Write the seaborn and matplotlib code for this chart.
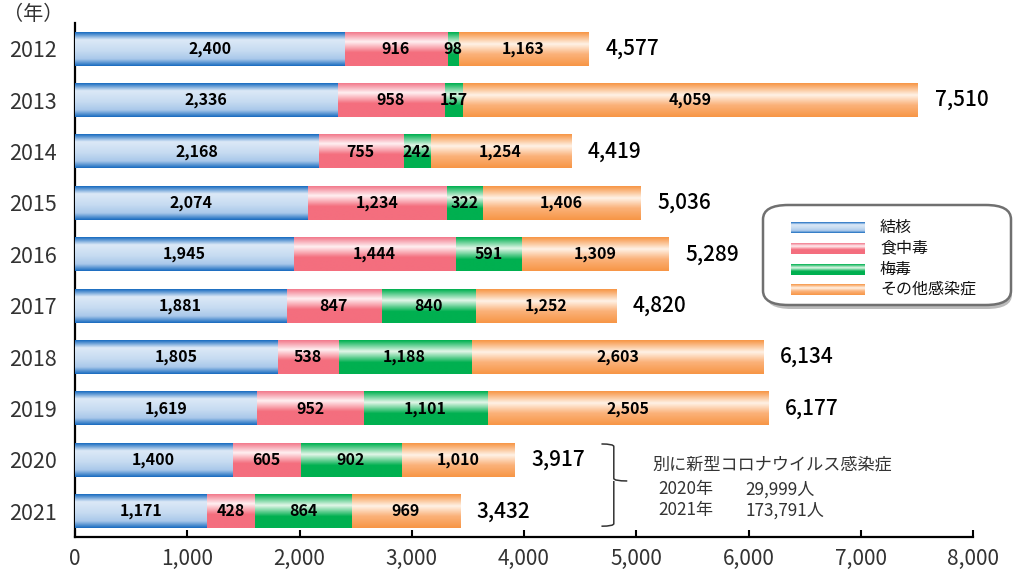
import matplotlib
matplotlib.use("Agg")
import matplotlib.pyplot as plt
import numpy as np
import pandas as pd
import seaborn as sns
from matplotlib.colors import LinearSegmentedColormap
from matplotlib.patches import FancyBboxPatch, PathPatch
from matplotlib.path import Path
from matplotlib.ticker import FuncFormatter

years = ["2012", "2013", "2014", "2015", "2016", "2017", "2018", "2019", "2020", "2021"]
tb = [2400, 2336, 2168, 2074, 1945, 1881, 1805, 1619, 1400, 1171]
food = [916, 958, 755, 1234, 1444, 847, 538, 952, 605, 428]
syph = [98, 157, 242, 322, 591, 840, 1188, 1101, 902, 864]
other = [1163, 4059, 1254, 1406, 1309, 1252, 2603, 2505, 1010, 969]
names = ["結核", "食中毒", "梅毒", "その他感染症"]

df = pd.DataFrame({"year": years, "tb": tb, "food": food, "syph": syph, "other": other})
df["c1"] = df.tb
df["c2"] = df.c1 + df.food
df["c3"] = df.c2 + df.syph
df["total"] = df.c3 + df.other

# vertical colour profiles of the bars (top -> bottom)
grads = [
    [(0, "#1a6cc0"), (0.22, "#dce9f7"), (0.55, "#c6dbf1"), (0.8, "#a9c8ea"), (1, "#1a6cc0")],
    [(0, "#f27a8c"), (0.28, "#fff0f2"), (0.6, "#f46e7e"), (1, "#f46e7e")],
    [(0, "#00b050"), (0.33, "#e3f7e9"), (0.66, "#00b050"), (1, "#00b050")],
    [(0, "#f79646"), (0.35, "#fff2e6"), (0.65, "#fbb27a"), (1, "#f79646")],
]


def grad_img(stops):
    cm = LinearSegmentedColormap.from_list("g", stops)
    return cm(np.linspace(0, 1, 64)).reshape(64, 1, 4)


sns.set_style("white")
plt.rcParams["font.family"] = ["Noto Sans CJK JP", "DejaVu Sans"]

fig = plt.figure(figsize=(10.16, 5.74), dpi=100)
ax = fig.add_axes([75 / 1016, 37 / 574, 898 / 1016, 514 / 574])

# cumulative bars, longest first, so they look stacked
layers = ["total", "c3", "c2", "c1"]
for col in layers:
    sns.barplot(data=df, x=col, y="year", orient="h", width=0.66, color="white", ax=ax)

for li, col in enumerate(layers):
    g = grad_img(grads[3 - li])
    for p in ax.patches[li * 10:(li + 1) * 10]:
        x0, y0 = p.get_x(), p.get_y()
        w, h = p.get_width(), p.get_height()
        ax.imshow(g, extent=(x0, x0 + w, y0 + h, y0), aspect="auto", origin="upper",
                  zorder=2 + li, interpolation="bilinear")
        p.set_visible(False)

ax.set_xlim(0, 8000)
ax.set_ylim(9.5, -0.5)

# segment labels
for i, r in df.iterrows():
    starts = [0, r.c1, r.c2, r.c3]
    vals = [r.tb, r.food, r.syph, r.other]
    for s, v in zip(starts, vals):
        ax.text(s + v / 2, i, f"{v:,}", ha="center", va="center", fontsize=11.5,
                fontweight="bold", color="black", zorder=10)
    ax.annotate(f"{r.total:,}", (r.total, i), xytext=(12, 0), textcoords="offset points",
                ha="left", va="center", fontsize=15, fontweight="medium", color="black", zorder=10)

ax.set_xlabel("")
ax.set_ylabel("")
ax.xaxis.set_major_formatter(FuncFormatter(lambda v, _: f"{int(v):,}"))
ax.set_xticks(range(0, 8001, 1000))
ax.tick_params(axis="x", direction="in", length=5, width=1.5, labelsize=15, pad=8,
               bottom=True, colors="black", labelcolor="#333333")
ax.tick_params(axis="y", length=0, labelsize=15.5, pad=13, labelcolor="#333333")
for s in ["top", "right"]:
    ax.spines[s].set_visible(False)
for s in ["left", "bottom"]:
    ax.spines[s].set_color("black")
    ax.spines[s].set_linewidth(1.6)

fig.text(33 / 1016, 1 - 15 / 574, "（年）", ha="center", va="center", fontsize=14.5, color="#333333")

# legend box
shadow = FancyBboxPatch((766 / 1016, 1 - 309 / 574), 246 / 1016, 100 / 574,
                        boxstyle="round,pad=0,rounding_size=0.025", transform=fig.transFigure,
                        facecolor="#bbbbbb", edgecolor="none", zorder=1)
box = FancyBboxPatch((763 / 1016, 1 - 305 / 574), 248 / 1016, 100 / 574,
                     boxstyle="round,pad=0,rounding_size=0.025", transform=fig.transFigure,
                     facecolor="white", edgecolor="#707070", linewidth=1.8, zorder=2)
fig.patches.extend([shadow, box])
rows_y = [227, 248, 269, 289]
for k, (nm, yy) in enumerate(zip(names, rows_y)):
    sax = fig.add_axes([791 / 1016, 1 - (yy + 6) / 574, 74 / 1016, 11 / 574], zorder=5)
    sax.imshow(grad_img(grads[k]), aspect="auto", extent=(0, 1, 0, 1), interpolation="bilinear")
    sax.axis("off")
    fig.text(880 / 1016, 1 - yy / 574, nm, ha="left", va="center", fontsize=11.5,
             color="#111111", zorder=6)

# brace and note for 2020/2021
bx0, bx1 = 4690, 4920
yt, yb, ym = 7.69, 9.29, 8.41
verts = [(bx0, yt), (bx0 + 110, yt), (bx0 + 110, yt + 0.05),
         (bx0 + 110, ym - 0.05), (bx0 + 110, ym), (bx1, ym),
         (bx0 + 110, ym), (bx0 + 110, ym + 0.05),
         (bx0 + 110, yb - 0.05), (bx0 + 110, yb), (bx0, yb)]
codes = [Path.MOVETO, Path.CURVE3, Path.CURVE3, Path.LINETO, Path.CURVE3, Path.CURVE3,
         Path.MOVETO, Path.LINETO, Path.LINETO, Path.CURVE3, Path.CURVE3]
ax.add_patch(PathPatch(Path(verts, codes), facecolor="none", edgecolor="#333333",
                       linewidth=1.1, zorder=10, clip_on=False))

note = dict(ha="left", va="center", fontsize=12.3, color="#333333")
ax.text(5140, 8.08, "別に新型コロナウイルス感染症", **note)
ax.text(5194, 8.57, "2020年", **note)
ax.text(5969, 8.57, "29,999人", **note)
ax.text(5194, 8.98, "2021年", **note)
ax.text(5969, 8.98, "173,791人", **note)

fig.savefig("out.png", dpi=100)
